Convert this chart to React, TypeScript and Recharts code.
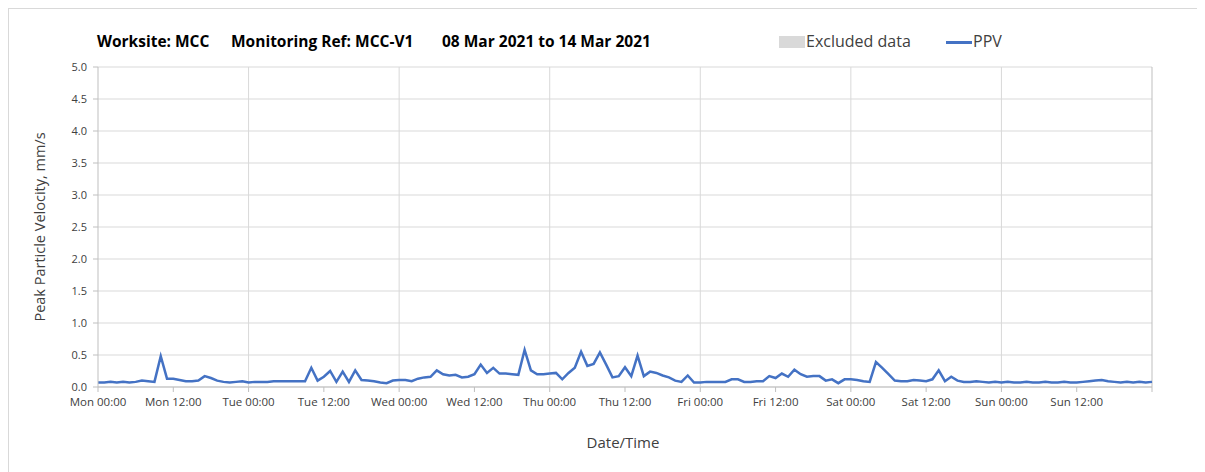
import { LineChart, Line, XAxis, YAxis, CartesianGrid, ReferenceLine } from "recharts";

// hourly PPV readings, Mon 00:00 (h0) to Mon 00:00 next week (h168)
const ppv = [
  0.07, 0.07, 0.08, 0.07, 0.08, 0.07, 0.08, 0.1, 0.09, 0.08, 0.48, 0.13, 0.13, 0.11, 0.09, 0.09, 0.1, 0.17, 0.14, 0.1, 0.08, 0.07, 0.08, 0.09, 0.07,
  0.08, 0.08, 0.08, 0.09, 0.09, 0.09, 0.09, 0.09, 0.09, 0.3, 0.1, 0.16, 0.25, 0.08, 0.24, 0.08, 0.26, 0.11, 0.1, 0.09, 0.07, 0.06, 0.1, 0.11, 0.11, 0.09, 0.13, 0.15, 0.16, 0.26, 0.2, 0.18,
  0.19, 0.15, 0.16, 0.2, 0.35, 0.22, 0.3, 0.21, 0.21, 0.2, 0.19, 0.58, 0.26, 0.2, 0.2, 0.21, 0.22, 0.12, 0.22, 0.3, 0.55, 0.33, 0.36, 0.54, 0.35, 0.15, 0.17, 0.31,
  0.17, 0.49, 0.17, 0.24, 0.22, 0.18, 0.15, 0.1, 0.08, 0.18, 0.07, 0.07, 0.08, 0.08, 0.08, 0.08, 0.12, 0.12, 0.08, 0.08, 0.09, 0.09, 0.17, 0.14, 0.21, 0.16, 0.27, 0.2, 0.16,
  0.17, 0.17, 0.1, 0.12, 0.06, 0.12, 0.12, 0.11, 0.09, 0.08, 0.39, 0.3, 0.2, 0.1, 0.09, 0.09, 0.11, 0.1, 0.09, 0.12, 0.26, 0.09, 0.16, 0.1, 0.08, 0.08, 0.09,
  0.08, 0.07, 0.08, 0.07, 0.08, 0.07, 0.07, 0.08, 0.07, 0.07, 0.08, 0.07, 0.07, 0.08, 0.07, 0.07, 0.08, 0.09, 0.1, 0.11, 0.09, 0.08, 0.07, 0.08, 0.07, 0.08, 0.07, 0.08,
];

const days = ["Mon", "Tue", "Wed", "Thu", "Fri", "Sat", "Sun"];
const xTicks = [0, 12, 24, 36, 48, 60, 72, 84, 96, 108, 120, 132, 144, 156, 168];
const dayLines = [24, 48, 72, 96, 120, 144];
const yTicks = [0, 0.5, 1, 1.5, 2, 2.5, 3, 3.5, 4, 4.5, 5];

const data = ppv.map((v, i) => ({ h: i, ppv: v }));

const FONT = "'Open Sans', sans-serif";
const BLUE = "#4472C4";

const fmtX = (h: number) => {
  if (h >= 168) return "";
  return `${days[Math.floor(h / 24)]} ${h % 24 === 0 ? "00:00" : "12:00"}`;
};

const titleStyle = {
  position: "absolute" as const,
  top: 22,
  fontSize: 15.5,
  fontWeight: 700,
  whiteSpace: "pre" as const,
  lineHeight: "20px",
};

export default function App() {
  return (
    <div
      style={{
        position: "relative",
        width: 1197,
        height: 464,
        borderTop: "1px solid #d9d9d9",
        borderLeft: "1px solid #d9d9d9",
        boxSizing: "border-box",
        background: "#fff",
        fontFamily: FONT,
        color: "#000",
      }}>
      {/* title */}
      <div style={{ ...titleStyle, left: 88 }}>Worksite: MCC</div>
      <div style={{ ...titleStyle, left: 222 }}>Monitoring Ref: MCC-V1</div>
      <div style={{ ...titleStyle, left: 433 }}>08 Mar 2021 to 14 Mar 2021</div>

      {/* legend */}
      <div style={{ position: "absolute", top: 27, left: 770, width: 26, height: 12, background: "#d9d9d9" }} />
      <div style={{ position: "absolute", top: 22, left: 797, fontSize: 16, lineHeight: "20px", color: "#404040" }}>
        Excluded data
      </div>
      <div style={{ position: "absolute", top: 32, left: 937, width: 26, height: 3, background: BLUE }} />
      <div style={{ position: "absolute", top: 22, left: 964, fontSize: 16, lineHeight: "20px", color: "#404040" }}>
        PPV
      </div>

      {/* y axis title */}
      <div
        style={{
          position: "absolute",
          left: 30,
          top: 218,
          transform: "translate(-50%, -50%) rotate(-90deg)",
          fontSize: 14.5,
          color: "#404040",
          whiteSpace: "nowrap",
        }}>
        Peak Particle Velocity, mm/s
      </div>

      {/* x axis title */}
      <div
        style={{
          position: "absolute",
          left: 614,
          top: 433,
          transform: "translate(-50%, -50%)",
          fontSize: 15,
          color: "#404040",
        }}>
        Date/Time
      </div>

      <div style={{ position: "absolute", top: -1, left: -1 }}>
        <LineChart width={1197} height={465} data={data} margin={{ top: 59, right: 53, bottom: 56, left: 0 }}>
          <CartesianGrid vertical={false} stroke="#d9d9d9" />
          {dayLines.map((d) => (
            <ReferenceLine key={d} x={d} stroke="#d9d9d9" />
          ))}
          <ReferenceLine x={168} stroke="#bfbfbf" />
          <XAxis
            dataKey="h"
            type="number"
            domain={[0, 168]}
            ticks={xTicks}
            tickFormatter={fmtX}
            interval={0}
            height={30}
            stroke="#bfbfbf"
            tickSize={5}
            tickMargin={6}
            tick={{ fill: "#404040", fontSize: 11.5, fontFamily: FONT }}
          />
          <YAxis
            type="number"
            domain={[0, 5]}
            ticks={yTicks}
            tickFormatter={(v: number) => v.toFixed(1)}
            width={90}
            interval={0}
            stroke="#bfbfbf"
            tickSize={5}
            tickMargin={6}
            tick={{ fill: "#404040", fontSize: 11, fontFamily: FONT }}
          />
          <Line
            type="linear"
            dataKey="ppv"
            stroke={BLUE}
            strokeWidth={2.5}
            dot={false}
            isAnimationActive={false}
          />
        </LineChart>
      </div>
    </div>
  );
}
